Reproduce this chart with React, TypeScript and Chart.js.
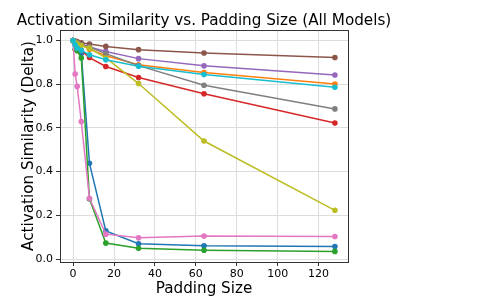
import React, { useEffect, useRef } from "react";
import { Chart, registerables } from "chart.js";

Chart.register(...registerables);

const paddingSizes = [0, 1, 2, 4, 8, 16, 32, 64, 128];
const seriesBlue = [1.0, 0.98, 0.965, 0.94, 0.438, 0.129, 0.07, 0.061, 0.057];
const seriesOrange = [1.0, 0.995, 0.99, 0.98, 0.96, 0.93, 0.889, 0.853, 0.801];
const seriesGreen = [1.0, 0.96, 0.953, 0.92, 0.275, 0.073, 0.049, 0.04, 0.035];
const seriesRed = [1.0, 0.985, 0.97, 0.955, 0.922, 0.881, 0.831, 0.756, 0.622];
const seriesPurple = [1.0, 0.995, 0.99, 0.985, 0.97, 0.95, 0.917, 0.884, 0.842];
const seriesBrown = [1.0, 0.998, 0.995, 0.99, 0.984, 0.973, 0.958, 0.943, 0.922];
const seriesPink = [1.0, 0.847, 0.79, 0.629, 0.278, 0.114, 0.097, 0.105, 0.103];
const seriesGray = [1.0, 0.995, 0.99, 0.98, 0.97, 0.94, 0.885, 0.795, 0.687];
const seriesOlive = [1.0, 0.99, 0.985, 0.977, 0.965, 0.92, 0.803, 0.54, 0.223];
const seriesCyan = [1.0, 0.98, 0.965, 0.955, 0.935, 0.912, 0.882, 0.844, 0.786];

const allSeries = [
  seriesBlue, seriesOrange, seriesGreen, seriesRed, seriesPurple,
  seriesBrown, seriesPink, seriesGray, seriesOlive, seriesCyan,
];
const colors = [
  "#1f77b4", "#ff7f0e", "#2ca02c", "#d62728", "#9467bd",
  "#8c564b", "#e377c2", "#7f7f7f", "#bcbd22", "#17becf",
];

const xTicks = [0, 20, 40, 60, 80, 100, 120];
const yTicks = [0, 0.2, 0.4, 0.6, 0.8, 1.0];

const titleText = "Activation Similarity vs. Padding Size (All Models)";
const xLabel = "Padding Size";
const yLabel = "Activation Similarity (Delta)";

const FONT = "'DejaVu Sans', sans-serif";

export default function App() {
  const ref = useRef<HTMLCanvasElement | null>(null);
  useEffect(() => {
    if (!ref.current) return;
    const labelsPlugin = {
      id: "labelsPlugin",
      afterDraw(chart: any) {
        const { ctx, chartArea } = chart;
        ctx.save();
        // top & right spines
        ctx.strokeStyle = "#333";
        ctx.lineWidth = 1;
        ctx.beginPath();
        ctx.moveTo(chartArea.left, chartArea.top + 0.5);
        ctx.lineTo(chartArea.right, chartArea.top + 0.5);
        ctx.moveTo(chartArea.right + 0.5, chartArea.top);
        ctx.lineTo(chartArea.right + 0.5, chartArea.bottom);
        ctx.stroke();
        ctx.fillStyle = "#000";
        ctx.textAlign = "center";
        ctx.textBaseline = "alphabetic";
        const cx = (chartArea.left + chartArea.right) / 2;
        ctx.font = `15.2px ${FONT}`;
        ctx.fillText(titleText, cx, 25);
        ctx.fillText(xLabel, cx, 293);
        ctx.translate(33, (chartArea.top + chartArea.bottom) / 2);
        ctx.rotate(-Math.PI / 2);
        ctx.fillText(yLabel, 0, 0);
        ctx.restore();
      },
    };
    const chart = new Chart(ref.current, {
      type: "line",
      data: {
        datasets: allSeries.map((s, i) => ({
          data: s.map((v, j) => ({ x: paddingSizes[j], y: v })),
          borderColor: colors[i],
          backgroundColor: colors[i],
          pointBackgroundColor: colors[i],
          pointBorderColor: colors[i],
          pointRadius: 2.8,
          pointBorderWidth: 0,
          borderWidth: 1.5,
          tension: 0,
          order: 9 - i,
        })),
      },
      options: {
        responsive: false,
        animation: false,
        events: [],
        layout: { padding: { left: 0, right: 150, top: 30, bottom: 0 } },
        plugins: { legend: { display: false }, tooltip: { enabled: false }, title: { display: false } },
        scales: {
          x: {
            type: "linear",
            min: -6.4,
            max: 134.4,
            afterBuildTicks: (scale: any) => {
              scale.ticks = xTicks.map((v) => ({ value: v }));
            },
            afterFit: (scale: any) => {
              scale.height = 37;
            },
            grid: { color: "#dddddd", lineWidth: 1, tickLength: 4, tickColor: "#333", drawTicks: true },
            border: { color: "#333", width: 1 },
            ticks: { color: "#000", font: { family: FONT, size: 11 }, padding: 2, maxRotation: 0, autoSkip: false },
          },
          y: {
            type: "linear",
            min: -0.0135,
            max: 1.048,
            afterBuildTicks: (scale: any) => {
              scale.ticks = yTicks.map((v) => ({ value: v }));
            },
            afterFit: (scale: any) => {
              scale.width = 60;
            },
            grid: { color: "#dddddd", lineWidth: 1, tickLength: 4, tickColor: "#333", drawTicks: true },
            border: { color: "#333", width: 1 },
            ticks: {
              color: "#000",
              font: { family: FONT, size: 11 },
              padding: 3,
              autoSkip: false,
              callback: (v: any) => Number(v).toFixed(1),
            },
          },
        },
      },
      plugins: [labelsPlugin],
    } as any);
    return () => chart.destroy();
  }, []);
  return (
    <div style={{ position: "fixed", left: 0, top: 0, width: 498, height: 299, background: "#fff" }}>
      <canvas ref={ref} width={498} height={299} style={{ width: 498, height: 299 }} />
    </div>
  );
}
